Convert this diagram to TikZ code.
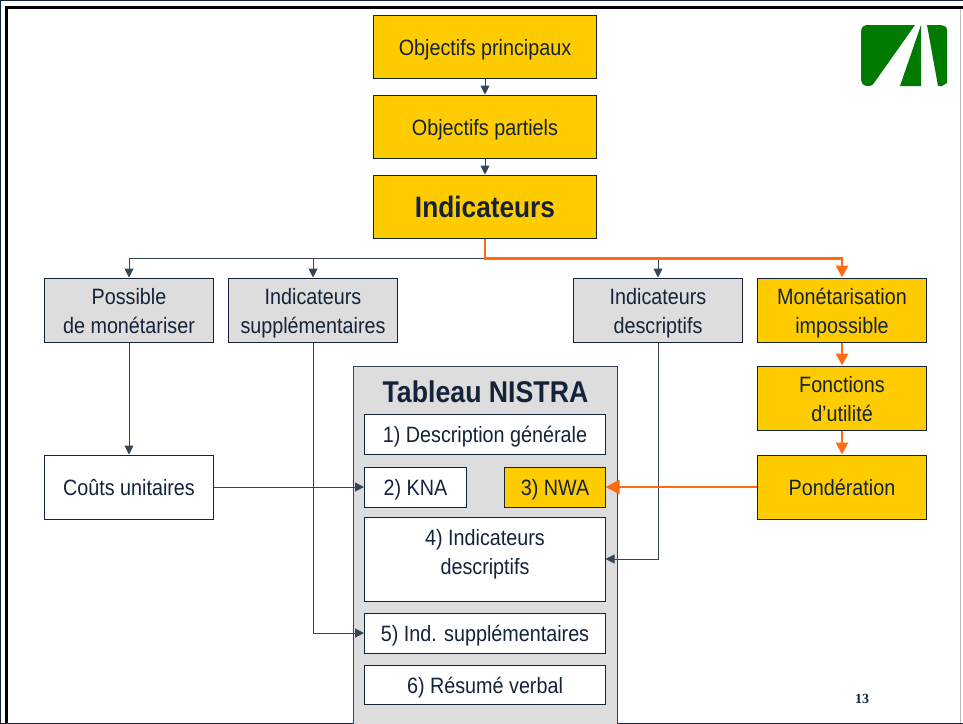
\documentclass[tikz,border=0pt]{standalone}
\usepackage{fontspec}
\setmainfont[FakeStretch=0.89]{Liberation Sans}
\newfontfamily\pagefont{Liberation Serif}
\usetikzlibrary{arrows.meta}
\definecolor{navyc}{HTML}{14233A}
\definecolor{goldc}{HTML}{FFCC00}
\definecolor{greyc}{HTML}{DDDDDD}
\definecolor{orangec}{HTML}{FF6A13}
\definecolor{logoc}{HTML}{007A00}
\tikzset{
  box/.style={draw=navyc,line width=1pt,inner sep=0pt,align=center,text=navyc,font=\fontsize{22.2}{29}\selectfont},
  gold/.style={box,fill=goldc},
  grey/.style={box,fill=greyc},
  white/.style={box,fill=white},
  thin arrow/.style={draw=navyc!85,line width=1pt,-{Triangle[length=9pt,width=9pt]}},
  thick arrow/.style={draw=orangec,line width=2.6pt,-{Triangle[length=12pt,width=12pt]}},
  big arrow/.style={draw=orangec,line width=2.6pt,-{Triangle[length=14pt,width=14pt]}},
}
\newcommand{\bx}[7]{\node[#1,minimum width=#5pt-#3pt,minimum height=#6pt-#4pt] (#2) at ({(#3+#5)/2-0.5},{(#4+#6)/2}) {\rule{0pt}{23pt}#7\rule[-6pt]{0pt}{6pt}};}
\begin{document}
\begin{tikzpicture}[x=1pt,y=-1pt]
\useasboundingbox (0,0) rectangle (963,723);
\fill[white] (0,0) rectangle (963,723);
\draw[black,line width=3pt] (6.5,723) -- (6.5,7.5) -- (963,7.5);
\draw[black!25,line width=1pt] (960,9) -- (960,723);
% logo
\fill[logoc] (868,25) -- (915,25) -- (874,83) .. controls (872,86) and (870,86) .. (868,86) .. controls (863,86) and (861,83) .. (861,80) -- (861,32) .. controls (861,27) and (864,25) .. (868,25) -- cycle;
\fill[logoc] (921,25) -- (921,86) -- (900,86) -- cycle;
\fill[logoc] (927,25) -- (939,25) .. controls (944,25) and (947,27) .. (947,30) -- (947,83) -- (942,86) -- (938,86) -- cycle;
% top
\bx{gold}{a}{374}{15}{597}{78}{Objectifs principaux}
\bx{gold}{b}{374}{95}{597}{158}{Objectifs partiels}
\bx{gold}{c}{374}{175}{597}{238}{\fontsize{29.5}{32}\selectfont\bfseries\raisebox{-2pt}{Indicateurs}}
% row
\bx{grey}{d}{45}{278}{214}{342}{Possible\\de monétariser}
\bx{grey}{e}{229}{278}{398}{342}{Indicateurs\\supplémentaires}
\bx{grey}{f}{574}{278}{743}{342}{Indicateurs\\descriptifs}
\bx{gold}{g}{758}{278}{927}{342}{Monétarisation\\impossible}
\bx{gold}{h}{758}{366}{927}{430}{Fonctions\\d’utilité}
\bx{gold}{i}{758}{455}{927}{519}{Pondération}
\bx{white}{j}{45}{455}{214}{519}{Coûts unitaires}
% table
\draw[navyc!85,line width=1pt,fill=greyc] (353,723.5) -- (353,366) -- (617.5,366) -- (617.5,723.5);
\node[text=navyc,font=\fontsize{30}{32}\selectfont\bfseries,inner sep=0pt] (t) at (485.5,392) {Tableau NISTRA};
\bx{white}{t1}{365}{414}{606}{454}{1) Description générale}
\bx{white}{t2}{365}{467}{467}{507}{2) KNA}
\bx{gold}{t3}{505}{467}{606}{507}{3) NWA}
\bx{white}{t4}{365}{517}{606}{601}{}
\node[text=navyc,font=\fontsize{22.2}{29}\selectfont,align=center,inner sep=0pt] (t4l) at (485,554) {4) Indicateurs\\descriptifs};
\bx{white}{t5}{365}{613}{606}{653}{5) Ind. supplémentaires}
\bx{white}{t6}{365}{665}{606}{704}{6) Résumé verbal}
\node[font=\pagefont\fontsize{14}{16}\selectfont\bfseries,text=navyc,inner sep=0pt] (p) at (862,699) {13};
% connectors
\coordinate (jn) at (485,258.5);
\draw[thin arrow] (a.south) -- (b.north);
\draw[thin arrow] (b.south) -- (c.north);
\draw[thin arrow] (jn) -| (d.north);
\draw[thin arrow] (jn) -| (e.north);
\draw[thin arrow] (jn) -| (f.north);
\draw[thin arrow] (d.south) -- (j.north);
\draw[thin arrow] (j.east) -- (j.east -| t2.west);
\draw[thin arrow] (e.south) |- (t5.west);
\draw[thin arrow] (f.south) |- (605.5,559);
\draw[thick arrow] (c.south) |- (jn) -| (g.north);
\draw[thick arrow] (g.south) -- (h.north);
\draw[thick arrow] (h.south) -- (i.north);
\draw[big arrow] (i.west) -- (605.5,487);
\end{tikzpicture}
\end{document}
